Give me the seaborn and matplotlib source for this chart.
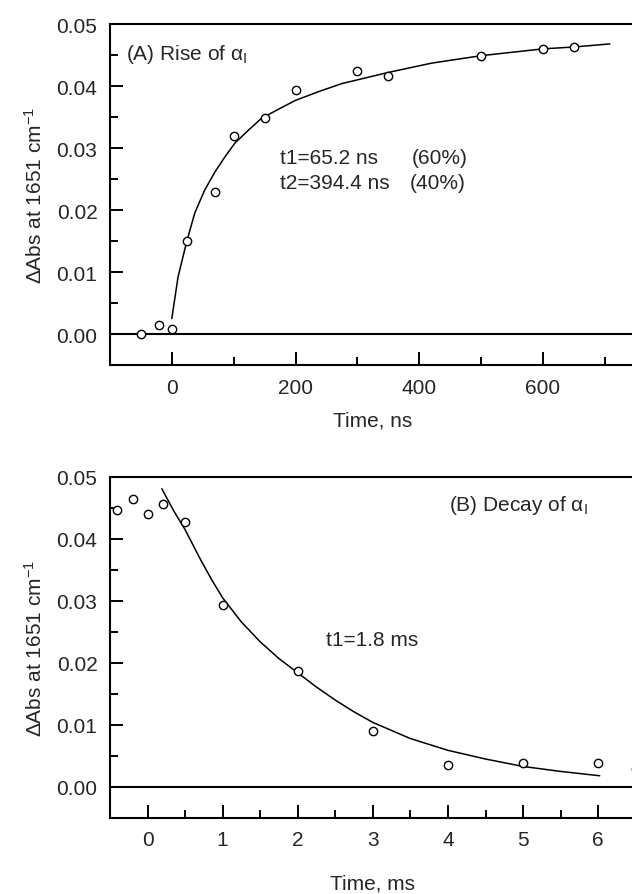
import matplotlib
matplotlib.use("Agg")
import matplotlib.pyplot as plt
from matplotlib.ticker import MultipleLocator, FormatStrFormatter
import seaborn as sns

# (A) rise, time in ns
rise_t = [-50, -20, 0, 25, 70, 100, 150, 200, 300, 350, 500, 600, 650]
rise_abs = [0.0000, 0.0015, 0.0008, 0.0150, 0.0229, 0.0319, 0.0348, 0.0393,
            0.0424, 0.0416, 0.0448, 0.0460, 0.0463]
rise_fit_t = [0, 10, 24, 37, 53, 70, 86, 102, 124, 145, 175, 200, 240, 275,
              350, 420, 500, 600, 650, 708]
rise_fit_abs = [0.0025, 0.0092, 0.0149, 0.0195, 0.0232, 0.0262, 0.0286, 0.0308,
                0.0329, 0.0348, 0.0364, 0.0377, 0.0392, 0.0404, 0.0422, 0.0437,
                0.0449, 0.0460, 0.0463, 0.0468]

# (B) decay, time in ms
decay_t = [-0.4, -0.2, 0, 0.2, 0.5, 1, 2, 3, 4, 5, 6, 6.5]
decay_abs = [0.0447, 0.0465, 0.0441, 0.0456, 0.0427, 0.0294, 0.0187, 0.0091,
             0.0036, 0.0039, 0.0038, 0.0029]
decay_fit_t = [0.19, 0.35, 0.5, 0.7, 0.85, 1.0, 1.25, 1.5, 1.75, 2.0, 2.25, 2.5,
               2.75, 3.0, 3.5, 4.0, 4.5, 5.0, 5.5, 6.02]
decay_fit_abs = [0.0481, 0.0445, 0.0415, 0.0368, 0.0335, 0.0305, 0.0266, 0.0234,
                 0.0207, 0.0184, 0.0161, 0.0140, 0.0121, 0.0104, 0.0078, 0.0059,
                 0.0045, 0.0033, 0.0025, 0.0018]

sns.set_style("ticks")
plt.rcParams['font.family'] = ['Liberation Sans', 'DejaVu Sans']
plt.rcParams['mathtext.fontset'] = 'custom'
plt.rcParams['mathtext.rm'] = 'Liberation Sans'
plt.rcParams['mathtext.it'] = 'Liberation Sans:italic'
plt.rcParams['font.size'] = 15

fig = plt.figure(figsize=(6.32, 8.95), dpi=100)
ax_a = fig.add_axes([0.174, 0.591, 0.832, 0.381])
ax_b = fig.add_axes([0.174, 0.085, 0.832, 0.381])

ylabel = r'$\Delta$Abs at 1651 cm$^{-1}$'


def style_axes(ax, major_x, minor_x):
    for side in ['top', 'bottom', 'left', 'right']:
        ax.spines[side].set_linewidth(1.5)
        ax.spines[side].set_color('black')
    ax.axhline(0, color='black', lw=1.5, zorder=1)
    ax.set_ylim(-0.005, 0.05)
    ax.yaxis.set_major_locator(MultipleLocator(0.01))
    ax.yaxis.set_minor_locator(MultipleLocator(0.005))
    ax.yaxis.set_major_formatter(FormatStrFormatter('%.2f'))
    ax.xaxis.set_major_locator(MultipleLocator(major_x))
    ax.xaxis.set_minor_locator(MultipleLocator(minor_x))
    ax.tick_params(which='major', direction='in', length=9.5, width=1.4,
                   labelsize=15, color='black', pad=9)
    ax.tick_params(which='minor', direction='in', length=5.5, width=1.4,
                   color='black')
    ax.tick_params(top=False, right=False, which='both')
    ax.set_ylabel(ylabel, fontsize=15, labelpad=8)


def draw(ax, t, a, ft, fa):
    sns.lineplot(x=ft, y=fa, ax=ax, color='black', lw=1.1, zorder=2)
    sns.scatterplot(x=t, y=a, ax=ax, marker='o', s=36, facecolor='white',
                    edgecolor='black', linewidth=1.0, zorder=3)


# panel A
draw(ax_a, rise_t, rise_abs, rise_fit_t, rise_fit_abs)
ax_a.set_xlim(-100, 750)
style_axes(ax_a, 200, 100)
ax_a.set_xlabel('Time, ns', fontsize=15, labelpad=10)
ax_a.text(-74, 0.0452, r'(A) Rise of α$_\mathrm{I}$', fontsize=15, va='center')
ax_a.text(175, 0.0284, 't1=65.2 ns', fontsize=15, va='center')
ax_a.text(388, 0.0284, '(60%)', fontsize=15, va='center')
ax_a.text(175, 0.0245, 't2=394.4 ns', fontsize=15, va='center')
ax_a.text(384, 0.0245, '(40%)', fontsize=15, va='center')

# panel B
draw(ax_b, decay_t, decay_abs, decay_fit_t, decay_fit_abs)
ax_b.set_xlim(-0.5, 6.5)
style_axes(ax_b, 1, 0.5)
ax_b.set_xlabel('Time, ms', fontsize=15, labelpad=17)
ax_b.text(4.01, 0.0456, r'(B) Decay of α$_\mathrm{I}$', fontsize=15, va='center')
ax_b.text(2.38, 0.0237, 't1=1.8 ms', fontsize=15, va='center')

fig.savefig('out.png', dpi=100)
